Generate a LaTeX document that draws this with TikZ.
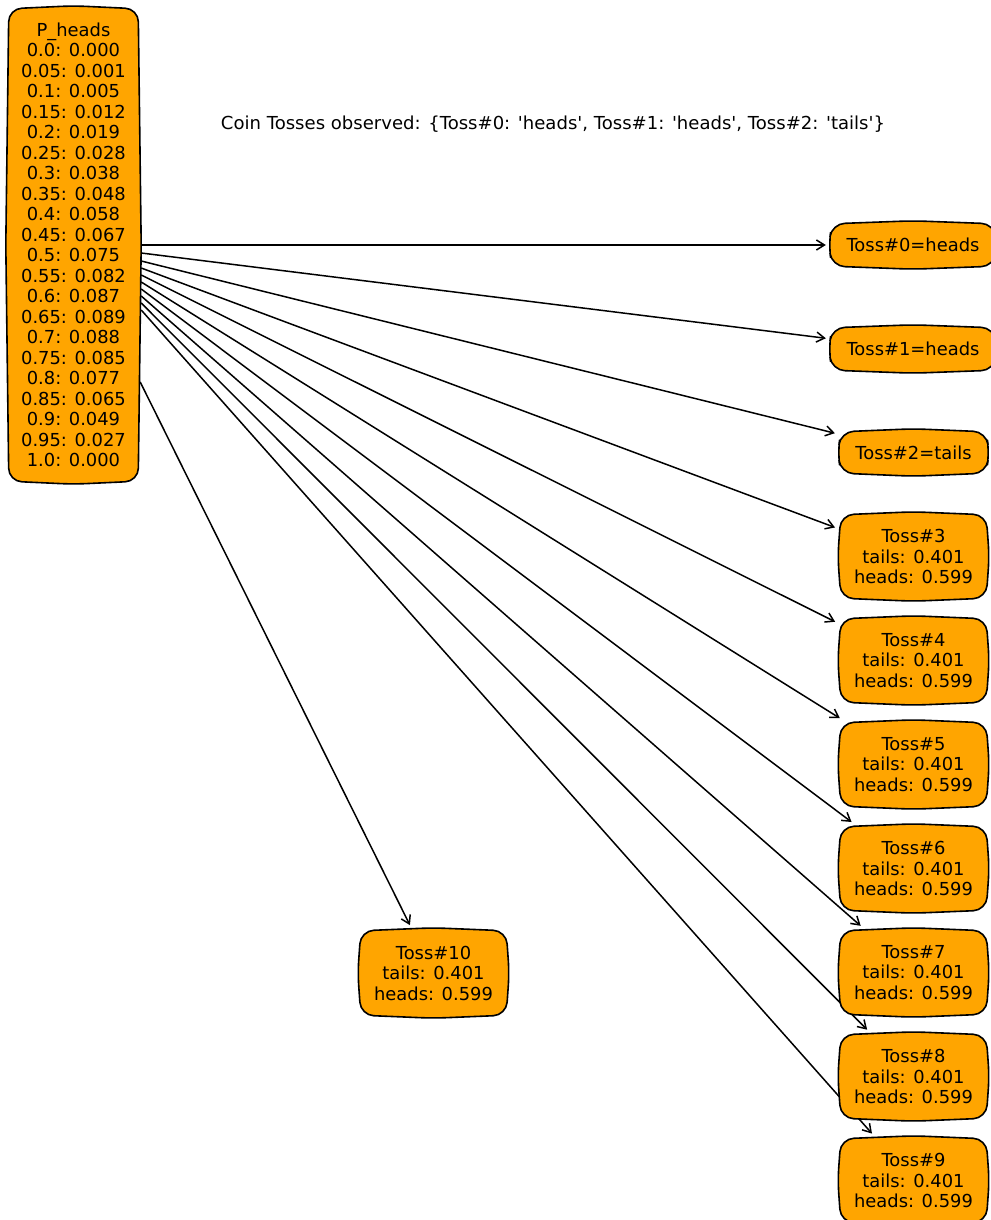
\documentclass[tikz,border=0pt]{standalone}
\usepackage{fontspec}
\setmainfont{DejaVu Sans}
\usetikzlibrary{calc,arrows.meta}
\definecolor{nodeorange}{HTML}{FFA500}
\pgfdeclarelayer{edgelayer}
\pgfdeclarelayer{shapelayer}
\pgfsetlayers{edgelayer,shapelayer,main}
\tikzset{
  tnode/.style={inner sep=0pt, align=center, font=\fontsize{17.9}{20.5}\selectfont},
  blob/.style={draw=black, fill=nodeorange, line width=1.6pt, rounded corners=13pt},
  edge/.style={draw=black, line width=1.5pt, -{Straight Barb[length=8pt,width=10pt]}, shorten >=3pt},
  captxt/.style={inner sep=0pt, font=\fontsize{17.9}{20.5}\selectfont}
}
\newcommand\blobshape[1]{%
\path[blob] (#1.north) -- ($(#1.north east)+(-3,-3)$) -- (#1.east)
 -- ($(#1.south east)+(-3,3)$) -- (#1.south) -- ($(#1.south west)+(3,3)$)
 -- (#1.west) -- ($(#1.north west)+(3,-3)$) -- cycle;}
\newcommand\tossinfo[1]{Toss\##1\\tails: 0.401\\heads: 0.599}
\begin{document}
\begin{tikzpicture}[x=1pt,y=1pt]
\useasboundingbox (0,0) rectangle (990,-1220);
\node[tnode, minimum width=135pt, minimum height=478pt] (P) at (73.5,-245)
 {P\_heads\\0.0: 0.000\\0.05: 0.001\\0.1: 0.005\\0.15: 0.012\\0.2: 0.019\\0.25: 0.028\\0.3: 0.038\\0.35: 0.048\\0.4: 0.058\\0.45: 0.067\\0.5: 0.075\\0.55: 0.082\\0.6: 0.087\\0.65: 0.089\\0.7: 0.088\\0.75: 0.085\\0.8: 0.077\\0.85: 0.065\\0.9: 0.049\\0.95: 0.027\\1.0: 0.000};
\node[captxt] (cap) at (553,-124) {\resizebox{664pt}{\height}{Coin Tosses observed: \{Toss\#0: \textquotesingle heads\textquotesingle, Toss\#1: \textquotesingle heads\textquotesingle, Toss\#2: \textquotesingle tails\textquotesingle\}}};
\node[tnode, minimum width=168pt, minimum height=48pt] (T0) at (913,-245) {Toss\#0=heads};
\node[tnode, minimum width=168pt, minimum height=48pt] (T1) at (913,-349) {Toss\#1=heads};
\node[tnode, minimum width=151pt, minimum height=47pt] (T2) at (913.5,-452.5) {Toss\#2=tails};
\node[tnode, minimum width=151pt, minimum height=89pt] (T3) at (913.5,-556.5) {\tossinfo{3}};
\node[tnode, minimum width=151pt, minimum height=89pt] (T4) at (913.5,-660.5) {\tossinfo{4}};
\node[tnode, minimum width=151pt, minimum height=89pt] (T5) at (913.5,-764.5) {\tossinfo{5}};
\node[tnode, minimum width=151pt, minimum height=89pt] (T6) at (913.5,-868.5) {\tossinfo{6}};
\node[tnode, minimum width=151pt, minimum height=89pt] (T7) at (913.5,-972.5) {\tossinfo{7}};
\node[tnode, minimum width=151pt, minimum height=89pt] (T8) at (913.5,-1076.5) {\tossinfo{8}};
\node[tnode, minimum width=151pt, minimum height=89pt] (T9) at (913.5,-1180.5) {\tossinfo{9}};
\node[tnode, minimum width=151pt, minimum height=90pt] (T10) at (433.5,-973) {\tossinfo{10}};
\begin{pgfonlayer}{shapelayer}
\foreach \n in {P,T0,T1,T2,T3,T4,T5,T6,T7,T8,T9,T10} {\blobshape{\n}}
\end{pgfonlayer}
\begin{pgfonlayer}{edgelayer}
\draw[edge] (P.east) -- (T0);
\draw[edge] ([yshift=-8pt]P.east) -- (T1);
\draw[edge] ([yshift=-16pt]P.east) -- (T2);
\draw[edge] ([yshift=-23pt]P.east) -- (T3);
\draw[edge] ([yshift=-30pt]P.east) -- (T4);
\draw[edge] ([yshift=-37pt]P.east) -- (T5);
\draw[edge] ([yshift=-44pt]P.east) -- (T6);
\draw[edge] ([yshift=-51pt]P.east) -- (T7);
\draw[edge] ([yshift=-58pt]P.east) -- (T8);
\draw[edge] ([yshift=-65pt]P.east) -- (T9);
\draw[edge] ([xshift=-1pt,yshift=-137pt]P.east) -- (T10);
\end{pgfonlayer}
\end{tikzpicture}
\end{document}
